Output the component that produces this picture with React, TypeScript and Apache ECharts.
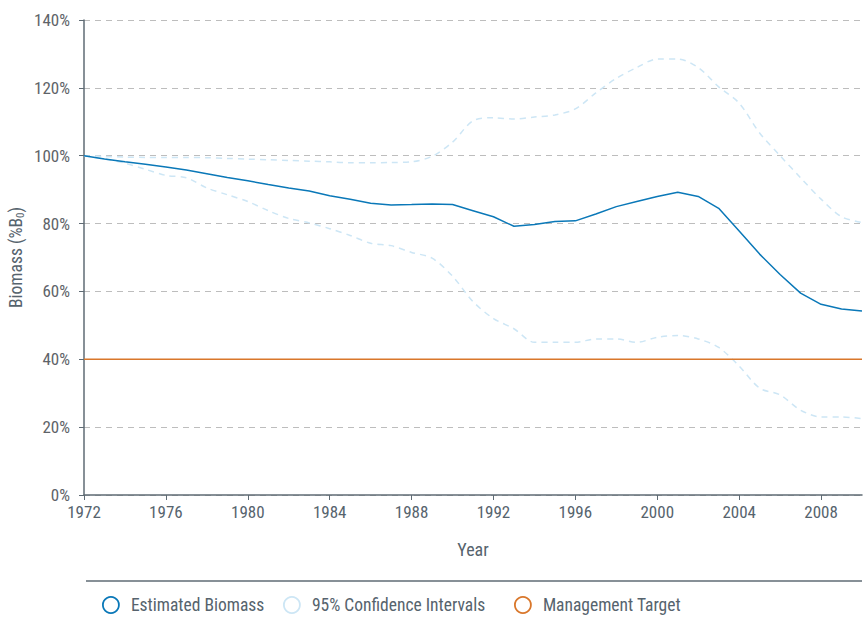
import React, { useEffect, useRef } from "react";
import * as echarts from "echarts";

const years: number[] = [
  1972, 1973, 1974, 1975, 1976, 1977, 1978, 1979, 1980, 1981, 1982, 1983, 1984,
  1985, 1986, 1987, 1988, 1989, 1990, 1991, 1992, 1993, 1994, 1995, 1996, 1997,
  1998, 1999, 2000, 2001, 2002, 2003, 2004, 2005, 2006, 2007, 2008, 2009, 2010,
];
const estimated: number[] = [
  100, 99, 98.2, 97.5, 96.7, 95.8, 94.7, 93.6, 92.6, 91.5, 90.5, 89.6, 88.2,
  87.2, 86.0, 85.5, 85.6, 85.8, 85.6, 83.8, 82.0, 79.2, 79.7, 80.6, 80.8, 82.8,
  85.0, 86.5, 88.0, 89.2, 88.0, 84.5, 77.8, 71.0, 65.0, 59.5, 56.2, 54.8, 54.2,
];
const upperCI: number[] = [
  100, 99.8, 99.6, 99.5, 99.5, 99.5, 99.4, 99.2, 99.0, 98.8, 98.6, 98.4, 98.2,
  97.9, 97.9, 98.0, 98.2, 99.8, 104, 110.3, 111.2, 110.8, 111.4, 112, 113.8,
  118.5, 122.8, 126, 128.5, 128.5, 126, 120.3, 115.5, 106.7, 100, 93.5, 87.2, 82,
  80.3,
];
const lowerCI: number[] = [
  100, 99, 97.8, 96, 94.2, 93.5, 90.5, 88.5, 86.5, 83.8, 81.5, 80.2, 78.5, 76.5,
  74.2, 73.5, 71.5, 69.8, 64.5, 57, 52, 49, 45, 45, 45, 46, 46, 45, 46.5, 47, 46,
  43.5, 38, 31.5, 29.5, 25, 23, 23, 22.5,
];
const targetYears: number[] = [1972, 2010];
const targetValues: number[] = [40, 40];

const C_EST = "#0a78b8";
const C_CI = "#cde6f5";
const C_TARGET = "#d9772b";
const C_AXIS = "#5f6b74";
const C_TEXT = "#56636d";
const C_YTEXT = "#5e6368";
const FONT = "'Liberation Sans Narrow', 'Roboto Condensed', Roboto, sans-serif";

const legendItems: { name: string; color: string; left: number }[] = [
  { name: "Estimated Biomass", color: C_EST, left: 97 },
  { name: "95% Confidence Intervals", color: C_CI, left: 278 },
  { name: "Management Target", color: C_TARGET, left: 509 },
];

export default function App() {
  const ref = useRef<HTMLDivElement>(null);
  useEffect(() => {
    if (!ref.current) return;
    const chart = echarts.init(ref.current, undefined, { renderer: "svg" });
    const pair = (vals: number[], xs: number[]) => xs.map((x, i) => [x, vals[i]]);
    chart.setOption({
      animation: false,
      textStyle: { fontFamily: FONT },
      grid: { left: 84, right: 4, top: 20, bottom: 134, containLabel: false, outerBoundsMode: "none" },
      xAxis: {
        type: "value",
        min: 1972,
        max: 2010,
        interval: 4,
        name: "Year",
        nameLocation: "middle",
        nameGap: 45,
        nameMoveOverlap: false,
        nameTextStyle: { color: C_TEXT, fontSize: 18, fontFamily: FONT },
        axisLine: { lineStyle: { color: C_AXIS, width: 1.5 } },
        axisTick: { show: true, length: 5, lineStyle: { color: C_AXIS } },
        axisLabel: {
          color: C_TEXT,
          fontSize: 17,
          margin: 8,
          fontFamily: FONT,
          formatter: (v: number) => String(v),
          showMaxLabel: false,
        },
        splitLine: { show: false },
      },
      yAxis: {
        type: "value",
        min: 0,
        max: 140,
        interval: 20,
        name: "Biomass (%B{sub|0})",
        nameLocation: "middle",
        nameGap: 58,
        nameMoveOverlap: false,
        nameTextStyle: {
          color: C_TEXT,
          fontSize: 17.5,
          fontFamily: FONT,
          rich: {
            sub: { fontSize: 11, fontFamily: FONT, verticalAlign: "bottom", color: C_TEXT, padding: [10, 0, 0, 0] },
          },
        },
        axisLine: { show: true, lineStyle: { color: C_AXIS, width: 1.5 } },
        axisTick: { show: true, length: 5, lineStyle: { color: C_AXIS } },
        axisLabel: { color: C_YTEXT, fontSize: 17, margin: 14, fontFamily: FONT, formatter: "{value}%" },
        splitLine: { show: true, lineStyle: { color: "#bdbdbd", type: [6, 5], width: 1 } },
      },
      legend: legendItems.map((it) => ({
        bottom: 10,
        left: it.left,
        itemWidth: 16,
        itemHeight: 16,
        textStyle: { color: C_TEXT, fontSize: 17.5, fontFamily: FONT, padding: [0, 0, 0, 7] },
        data: [
          { name: it.name, icon: "circle", itemStyle: { color: "#fff", borderColor: it.color, borderWidth: 1.8 } },
        ],
      })),
      graphic: [
        {
          type: "line",
          shape: { x1: 86, y1: 581, x2: 862, y2: 581 },
          style: { stroke: C_AXIS, lineWidth: 1.5 },
        },
      ],
      series: [
        {
          name: "95% Confidence Intervals",
          type: "line",
          data: pair(upperCI, years),
          showSymbol: false,
          smooth: 0.3,
          lineStyle: { color: C_CI, width: 1.5, type: [6, 5] },
          itemStyle: { color: C_CI },
          z: 1,
        },
        {
          name: "95% Confidence Intervals",
          type: "line",
          data: pair(lowerCI, years),
          showSymbol: false,
          smooth: 0.3,
          lineStyle: { color: C_CI, width: 1.5, type: [6, 5] },
          itemStyle: { color: C_CI },
          z: 1,
        },
        {
          name: "Management Target",
          type: "line",
          data: pair(targetValues, targetYears),
          showSymbol: false,
          lineStyle: { color: C_TARGET, width: 1.5 },
          itemStyle: { color: C_TARGET },
          z: 2,
        },
        {
          name: "Estimated Biomass",
          type: "line",
          data: pair(estimated, years),
          showSymbol: false,
          lineStyle: { color: C_EST, width: 1.5 },
          itemStyle: { color: C_EST },
          z: 3,
        },
      ],
    });
    return () => chart.dispose();
  }, []);
  return <div ref={ref} style={{ width: 866, height: 629, position: "absolute", left: 0, top: 0 }} />;
}
